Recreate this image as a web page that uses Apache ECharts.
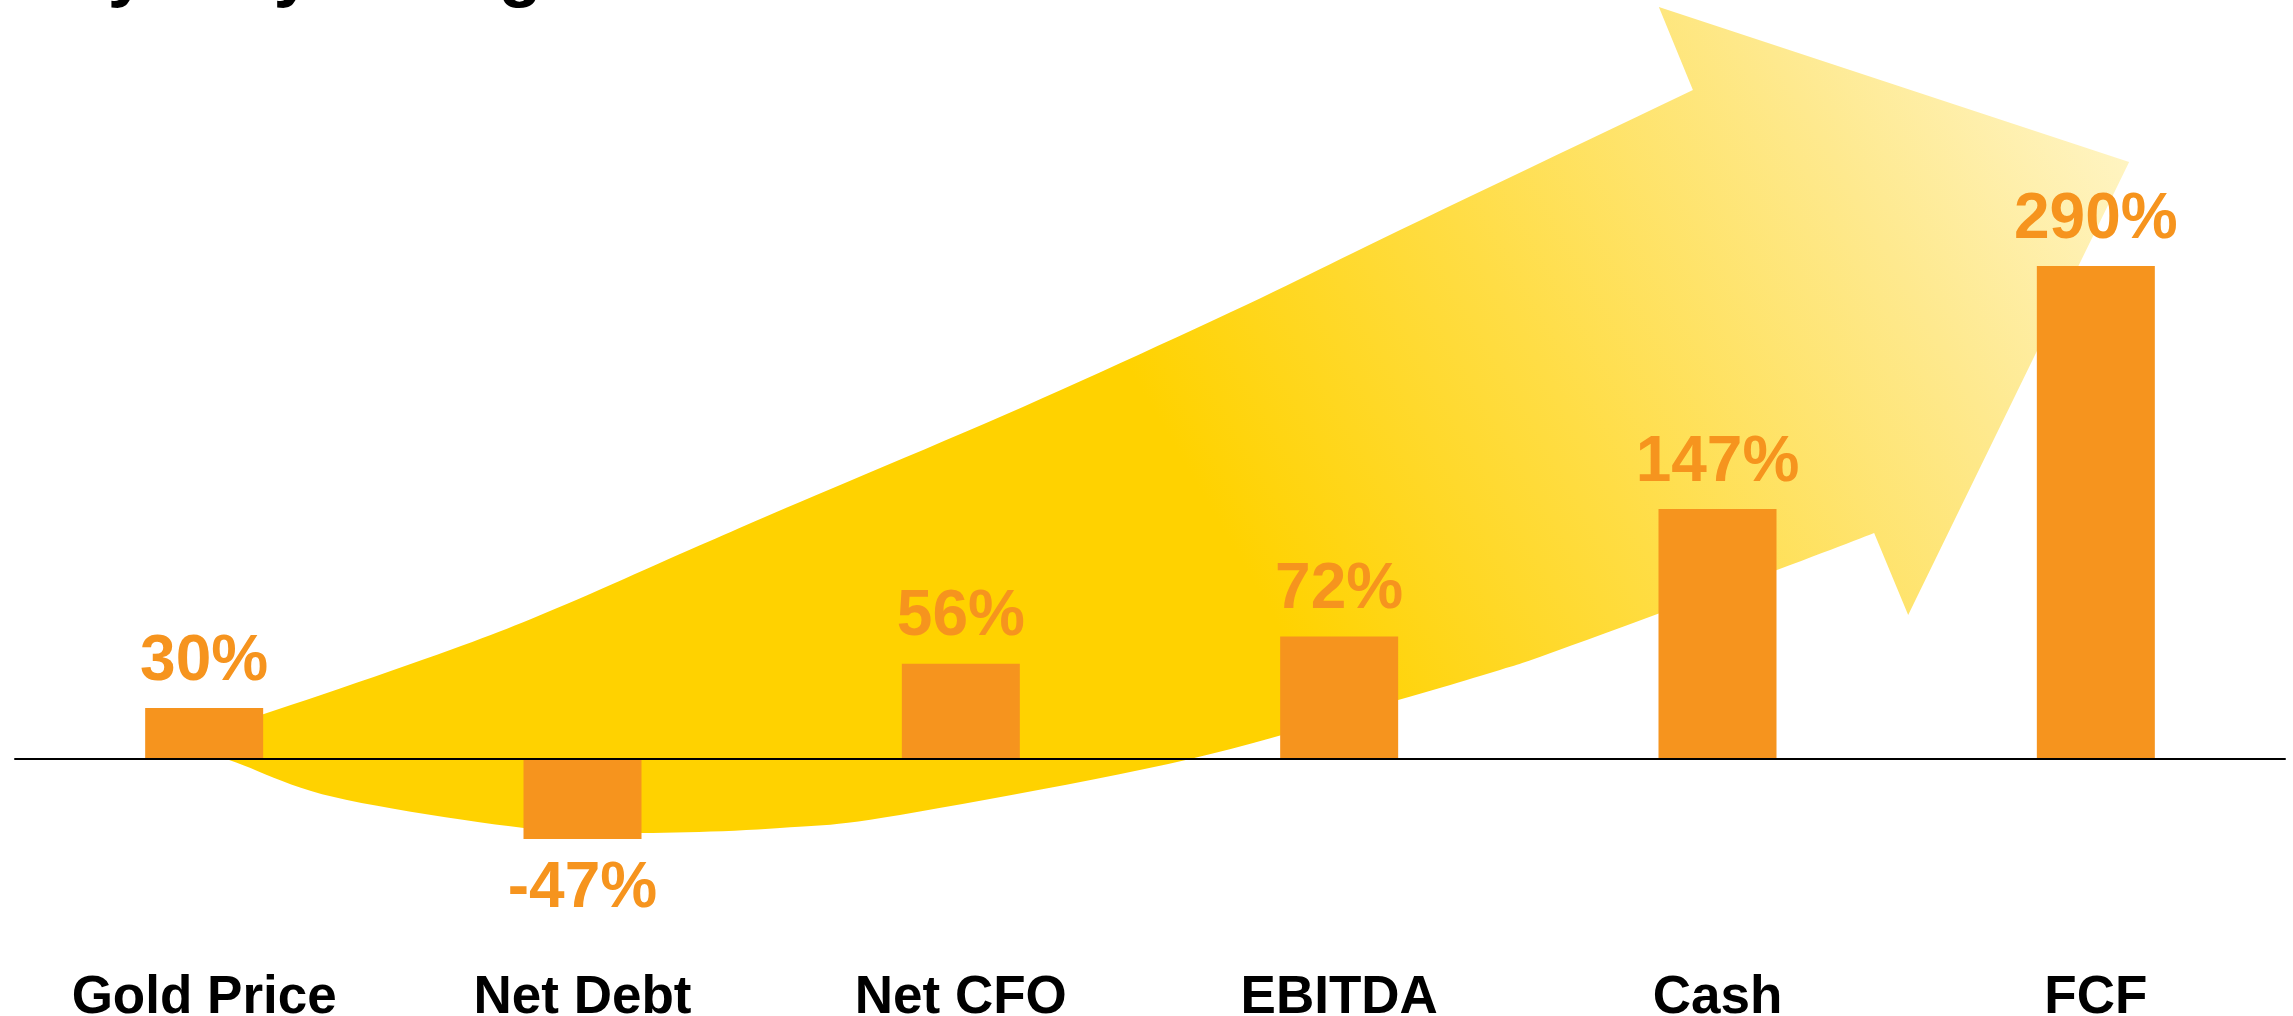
<!DOCTYPE html>
<html>
<head>
<meta charset="utf-8">
<script src="https://cdn.jsdelivr.net/npm/echarts@6/dist/echarts.min.js"></script>
<style>
html,body{margin:0;padding:0;background:#fff;}
#chart{width:2293px;height:1016px;}
</style>
</head>
<body>
<div id="chart"></div>
<script>
// ---- data ----
const categories = ['Gold Price', 'Net Debt', 'Net CFO', 'EBITDA', 'Cash', 'FCF'];
const changes = [30, -47, 56, 72, 147, 290];
const titleText = 'Half-yearly changes';

// decorative arrow outline, in data units: [category position, % value]
const arrowTopEdge = [[-0.104, 10.0], [0.158, 26.5], [0.650, 64.1], [0.933, 88.8], [1.282, 122.9],
  [1.575, 151.2], [2.164, 207.1], [2.754, 267.1], [3.161, 311.2], [3.935, 393.5]];
const arrowHead = [[3.845, 442.4], [5.088, 351.2], [4.504, 84.7]];
const arrowBottomEdge = [[4.414, 132.9], [4.157, 111.2], [3.581, 64.1], [3.425, 52.4], [3.156, 34.7],
  [2.606, 0.0], [1.839, -32.9], [1.522, -40.6], [1.157, -43.5], [0.845, -40.6], [0.343, -22.4],
  [0.066, -0.6], [-0.104, 10.0]];

const ORANGE = '#F6941E';
const FONT = 'Liberation Sans, Arial, sans-serif';

function catmull(pts, steps) {
  const out = [];
  for (let i = 0; i < pts.length - 1; i++) {
    const p0 = pts[Math.max(i - 1, 0)], p1 = pts[i], p2 = pts[i + 1], p3 = pts[Math.min(i + 2, pts.length - 1)];
    for (let s = 0; s < steps; s++) {
      const t = s / steps, t2 = t * t, t3 = t2 * t;
      const f = (a, b, c, d) => 0.5 * ((2 * b) + (-a + c) * t + (2 * a - 5 * b + 4 * c - d) * t2 + (-a + 3 * b - 3 * c + d) * t3);
      out.push([f(p0[0], p1[0], p2[0], p3[0]), f(p0[1], p1[1], p2[1], p3[1])]);
    }
  }
  out.push(pts[pts.length - 1]);
  return out;
}

const chart = echarts.init(document.getElementById('chart'));
chart.setOption({
  animation: false,
  backgroundColor: '#fff',
  title: {
    text: titleText, left: -55, top: -67,
    textStyle: { fontSize: 71, fontWeight: 'bold', color: '#000', fontFamily: FONT }
  },
  grid: { left: 15, right: 8, top: 249, bottom: 87, containLabel: false, outerBoundsMode: 'none' },
  xAxis: [{
    type: 'category', data: categories, z: 5,
    axisLine: { onZero: true, lineStyle: { color: '#000', width: 2 } },
    axisTick: { show: false },
    axisLabel: { interval: 0, margin: 43, color: '#000', fontSize: 53, fontWeight: 'bold', fontFamily: FONT }
  }, {
    type: 'value', min: -0.5, max: 5.5, show: false
  }],
  yAxis: { type: 'value', min: -100, max: 300, show: false },
  series: [{
    type: 'custom', xAxisIndex: 1, yAxisIndex: 0, z: 0, clip: false, silent: true,
    data: [[0, 0]],
    renderItem: function (params, api) {
      const toPx = p => api.coord(p);
      const top = catmull(arrowTopEdge.map(toPx), 12);
      const head = arrowHead.map(toPx);
      const bottom = catmull(arrowBottomEdge.map(toPx), 12);
      const points = top.concat(head, bottom);
      return {
        type: 'polygon',
        shape: { points: points },
        style: {
          fill: new echarts.graphic.LinearGradient(0.55, 0.68, 1.0, 0.06, [
            { offset: 0, color: '#FFD200' },
            { offset: 0.35, color: '#FFDD45' },
            { offset: 0.7, color: '#FEE98E' },
            { offset: 1, color: '#FFF6CC' }
          ])
        }
      };
    }
  }, {
    type: 'bar', xAxisIndex: 0, yAxisIndex: 0, z: 3,
    barWidth: 118,
    itemStyle: { color: ORANGE },
    label: {
      show: true, position: 'top', distance: 14,
      formatter: '{c}%', color: ORANGE, fontSize: 64, fontWeight: 'bold', fontFamily: FONT
    },
    data: changes.map(v => v < 0 ? { value: v, label: { position: 'bottom', distance: 18 } } : v)
  }]
});
</script>
</body>
</html>
